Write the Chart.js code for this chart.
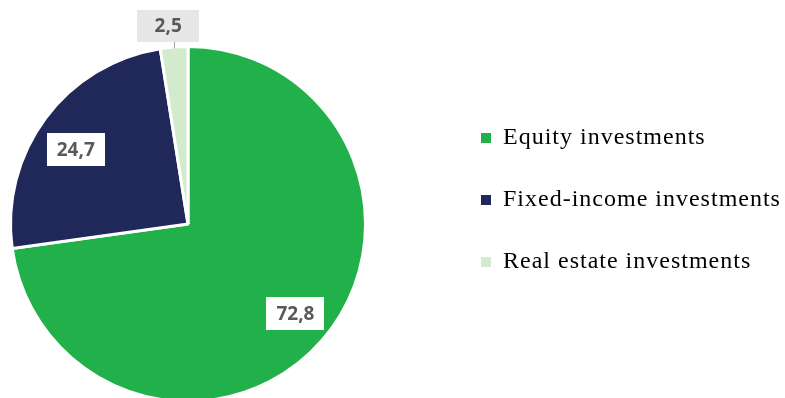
<!DOCTYPE html>
<html>
<head>
<meta charset="utf-8">
<script src="https://cdn.jsdelivr.net/npm/chart.js@4/dist/chart.umd.min.js"></script>
<style>
  html, body { margin: 0; padding: 0; background: #fff; overflow: hidden; }
  #wrap { width: 785px; height: 398px; }
</style>
</head>
<body>
<div id="wrap"><canvas id="c" width="785" height="398"></canvas></div>
<script>
// Portfolio breakdown (percent)
const categories = ['Equity investments', 'Fixed-income investments', 'Real estate investments'];
const shares = [72.8, 24.7, 2.5];
const sliceColors = ['#22b04b', '#1f2858', '#d3ebcd'];

const fmt = v => v.toFixed(1).replace('.', ',');

// Small pixel nudges for the boxed value labels
const labelNudge = [[3, -1], [-1, 8], [0, 0]];

// Slightly tracked-out legend lettering
const legendTracking = {
  id: 'legendTracking',
  beforeUpdate(chart) { chart.ctx.letterSpacing = '1px'; },
  beforeDraw(chart) { chart.ctx.letterSpacing = '1px'; }
};

// Pull the pie plot area leftwards so the pie sits near the left edge
const pieShift = {
  id: 'pieShift',
  afterLayout(chart) {
    const ca = chart.chartArea;
    ca.left -= 67;
    ca.width = ca.right - ca.left;
  }
};

// Boxed value labels: inside large slices, above the slice with a leader line for small ones
const valueLabels = {
  id: 'valueLabels',
  afterDatasetsDraw(chart) {
    const ctx = chart.ctx;
    const meta = chart.getDatasetMeta(0);
    ctx.save();
    ctx.letterSpacing = '0px';
    ctx.font = '700 19px "Open Sans", "Liberation Sans", sans-serif';
    ctx.textAlign = 'center';
    ctx.textBaseline = 'middle';
    meta.data.forEach((arc, i) => {
      const { x, y, startAngle, endAngle, outerRadius } =
        arc.getProps(['x', 'y', 'startAngle', 'endAngle', 'outerRadius'], true);
      const mid = (startAngle + endAngle) / 2;
      const c = Math.cos(mid), s = Math.sin(mid);
      const text = fmt(shares[i]);
      let bx, by, w, h, fill;
      if (shares[i] >= 5) {
        bx = x + c * outerRadius * 0.78 + labelNudge[i][0];
        by = y + s * outerRadius * 0.78 + labelNudge[i][1];
        w = 58; h = 33; fill = '#ffffff';
      } else {
        const ex = x + c * (outerRadius - 1.5);
        const ey = y + s * (outerRadius - 1.5);
        w = 62; h = 32; fill = '#e7e7e7';
        bx = ex - 6;
        by = ey - 7 - h / 2;
        ctx.strokeStyle = '#a6a6a6';
        ctx.lineWidth = 1;
        ctx.beginPath();
        ctx.moveTo(Math.round(ex) + 0.5, ey);
        ctx.lineTo(Math.round(ex) + 0.5, by + h / 2);
        ctx.stroke();
      }
      ctx.fillStyle = fill;
      ctx.fillRect(Math.round(bx - w / 2), Math.round(by - h / 2), w, h);
      ctx.fillStyle = '#595959';
      ctx.fillText(text, bx, by + 1);
    });
    ctx.restore();
  }
};

new Chart(document.getElementById('c'), {
  type: 'pie',
  data: {
    labels: categories,
    datasets: [{
      data: shares,
      backgroundColor: sliceColors,
      borderColor: '#ffffff',
      borderWidth: 3,
      radius: 177.5
    }]
  },
  options: {
    responsive: false,
    animation: false,
    events: [],
    layout: { padding: { left: 0, right: 0, top: 88, bottom: 38 } },
    plugins: {
      tooltip: { enabled: false },
      legend: {
        position: 'right',
        align: 'start',
        maxWidth: 342,
        labels: {
          boxWidth: 10,
          boxHeight: 10,
          padding: 38,
          color: '#000000',
          font: { family: '"Liberation Serif", "Times New Roman", serif', size: 24 },
          generateLabels(chart) {
            const items = Chart.overrides.pie.plugins.legend.labels.generateLabels(chart);
            items.forEach(it => { it.lineWidth = 0; it.strokeStyle = 'rgba(0,0,0,0)'; });
            return items;
          }
        }
      }
    }
  },
  plugins: [legendTracking, pieShift, valueLabels]
});
</script>
</body>
</html>
